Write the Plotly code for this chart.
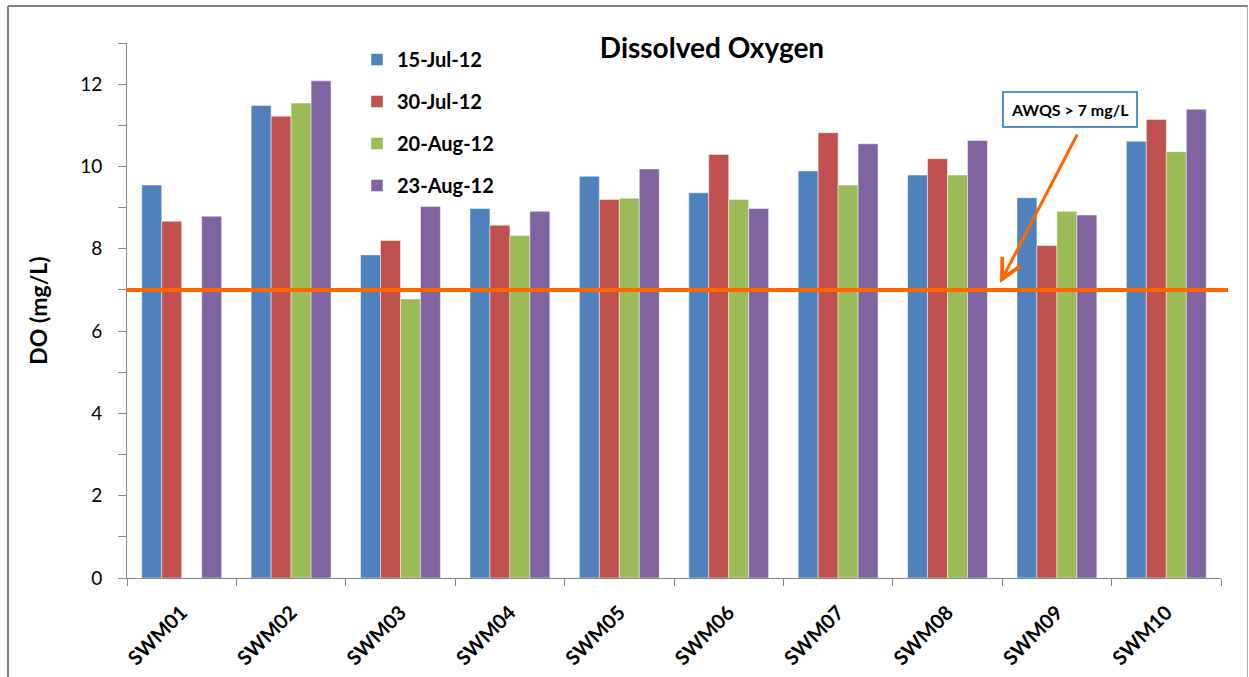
import plotly.graph_objects as go

sites = ["SWM01", "SWM02", "SWM03", "SWM04", "SWM05", "SWM06", "SWM07", "SWM08", "SWM09", "SWM10"]
jul15 = [9.55, 11.48, 7.85, 8.98, 9.76, 9.36, 9.89, 9.79, 9.24, 10.61]
jul30 = [8.67, 11.22, 8.20, 8.57, 9.20, 10.29, 10.82, 10.19, 8.08, 11.14]
aug20 = [None, 11.54, 6.78, 8.32, 9.23, 9.20, 9.55, 9.79, 8.91, 10.36]
aug23 = [8.79, 12.08, 9.03, 8.91, 9.94, 8.98, 10.55, 10.63, 8.82, 11.39]
series_names = ["15-Jul-12", "30-Jul-12", "20-Aug-12", "23-Aug-12"]
colors = ["#4F81BD", "#C0504D", "#9BBB59", "#8064A2"]
THRESHOLD = 7
y_ticks = list(range(0, 14))
y_ticklabels = [str(v) if v % 2 == 0 else "" for v in y_ticks]

FONT = "Lato"

fig = go.Figure()
for name, vals, col in zip(series_names, [jul15, jul30, aug20, aug23], colors):
    fig.add_trace(go.Bar(
        x=sites, y=vals, name="<b>" + name + "</b>", legendgroup=name,
        marker=dict(color=col, line=dict(color="rgba(255,255,255,0.6)", width=0.8)),
    ))

W, H = 1249, 677
L, R, T, B = 127, 28, 43, 99
pw, ph = W - L - R, H - T - B

def px_x(p):
    return (p - L) / pw

def px_y(p):
    return (H - B - p) / ph

fig.update_layout(
    width=W, height=H,
    margin=dict(l=L, r=R, t=T, b=B, autoexpand=False),
    paper_bgcolor="white", plot_bgcolor="white",
    barmode="group", bargap=0.27, bargroupgap=0,
    font=dict(family=FONT, color="#000000"),
    title=dict(text="<b>Dissolved Oxygen</b>", font=dict(size=28, family=FONT),
               x=px_x(712), xref="paper", xanchor="center",
               y=1 - 48 / H, yref="container", yanchor="middle"),
    legend=dict(x=px_x(357), y=px_y(40), xanchor="left", yanchor="top",
                font=dict(size=20, family=FONT), bgcolor="rgba(0,0,0,0)",
                tracegroupgap=13, itemwidth=30),
    showlegend=True,
    xaxis=dict(
        type="category", tickson="boundaries", ticks="outside", ticklen=7,
        tickcolor="#868686", showline=True, linecolor="#868686", linewidth=1,
        tickangle=-45, tickfont=dict(size=20, family=FONT),
        ticklabelstandoff=14, showgrid=False, range=[-0.5, 9.5],
        tickprefix="<b>", ticksuffix="</b>", automargin=False,
    ),
    yaxis=dict(
        range=[0, 13], tickvals=y_ticks, ticktext=y_ticklabels,
        ticks="outside", ticklen=8, tickcolor="#868686",
        showline=True, linecolor="#868686", linewidth=1,
        showgrid=False, zeroline=False, automargin=False,
        tickfont=dict(size=19, family=FONT), ticklabelstandoff=12,
        title=dict(text="<b>DO (mg/L)</b>", font=dict(size=23, family=FONT), standoff=26),
    ),
)

# threshold line
fig.add_shape(type="line", xref="paper", yref="y", x0=0, x1=px_x(1228),
              y0=THRESHOLD, y1=THRESHOLD, line=dict(color="#FF6600", width=4), layer="above")

# outer frame (left, top, right edges visible)
fig.add_shape(type="line", xref="paper", yref="paper",
              x0=px_x(8), x1=px_x(8), y0=px_y(680), y1=px_y(6),
              line=dict(color="#808080", width=2), layer="below")
fig.add_shape(type="line", xref="paper", yref="paper",
              x0=px_x(8), x1=px_x(1248), y0=px_y(6), y1=px_y(6),
              line=dict(color="#808080", width=2), layer="below")
fig.add_shape(type="line", xref="paper", yref="paper",
              x0=px_x(1247.5), x1=px_x(1247.5), y0=px_y(680), y1=px_y(6),
              line=dict(color="#A8A8A8", width=1), layer="below")

# label box
fig.add_annotation(xref="paper", yref="paper", x=px_x(1070), y=px_y(110),
                   text="<b>AWQS > 7 mg/L</b>", showarrow=False,
                   font=dict(size=16, family=FONT, color="#000000"),
                   bordercolor="#4F8DD6", borderwidth=2, bgcolor="white",
                   borderpad=7, xanchor="center", yanchor="middle")

# arrow
fig.add_annotation(xref="paper", yref="paper", x=px_x(1000), y=px_y(283),
                   ax=78, ay=-150, axref="pixel", ayref="pixel", text="",
                   showarrow=True, arrowhead=5, arrowsize=1.3, arrowwidth=3,
                   arrowcolor="#FF6600")

fig.write_html("out.html")
